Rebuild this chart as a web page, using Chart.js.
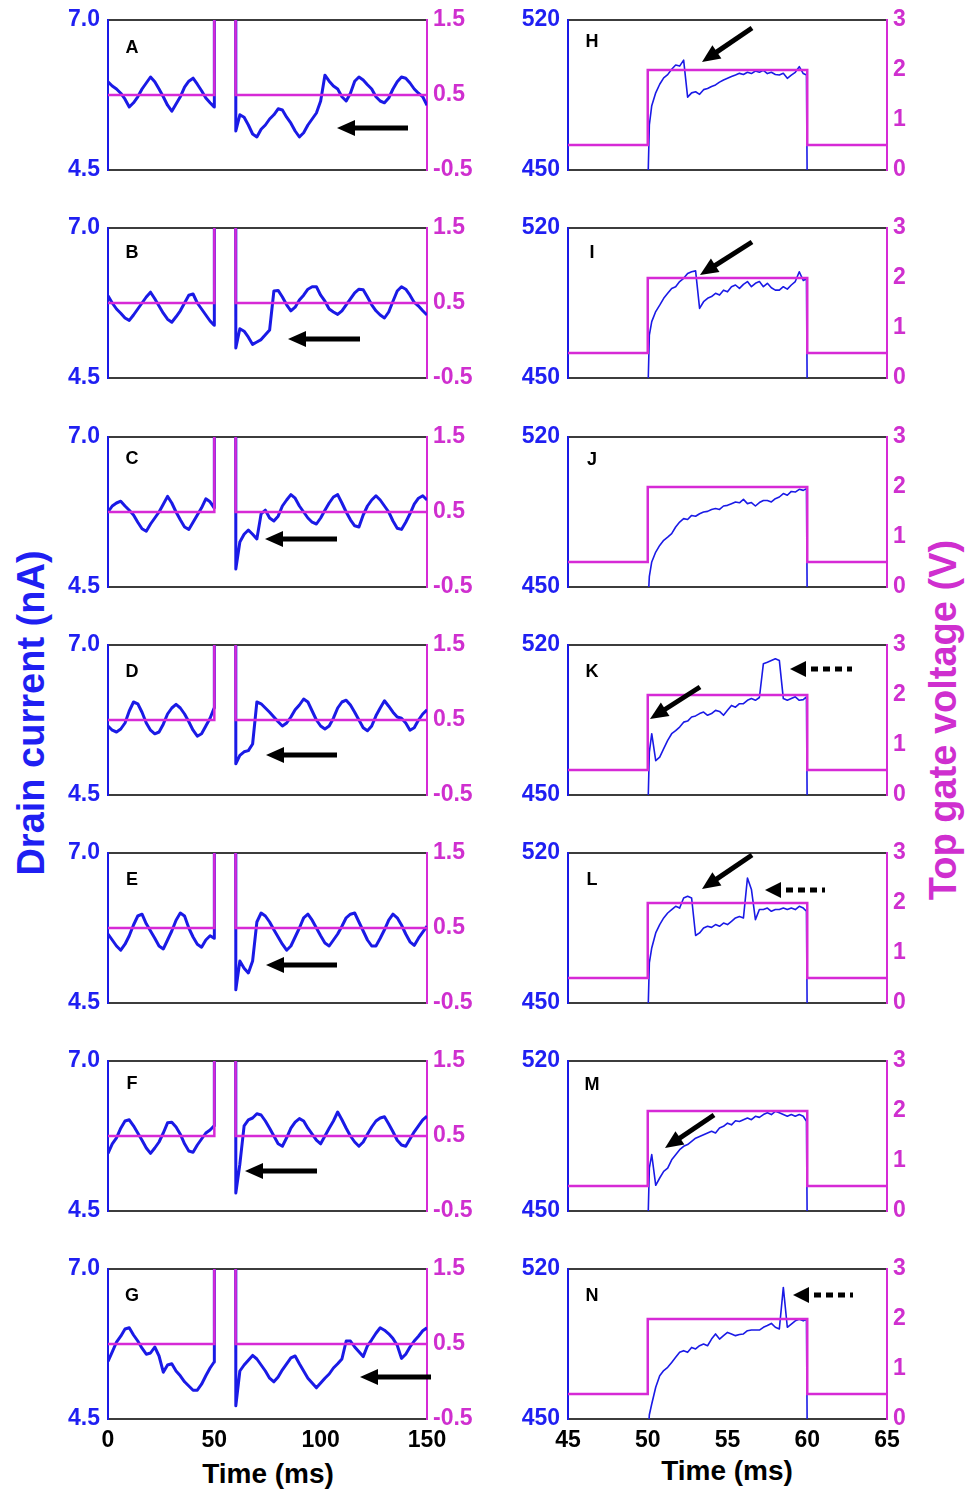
<!DOCTYPE html>
<html>
<head>
<meta charset="utf-8">
<script src="https://cdn.jsdelivr.net/npm/chart.js@4.4.1/dist/chart.umd.min.js"></script>
<style>
  body { margin: 0; background: #fff; overflow: hidden; }
  #fig { position: relative; width: 965px; height: 1490px; background: #fff; }
  .lab { position: absolute; white-space: nowrap; font-family: 'Liberation Sans', Arial, sans-serif; font-weight: bold; transform: translate(-50%, -50%); }
  .rot { transform: translate(-50%, -50%) rotate(-90deg); }
</style>
</head>
<body>
<div id="fig">
  <div class="lab rot" style="left:31px;top:713px;font-size:38px;color:#1f1ff2">Drain current (nA)</div>
  <div class="lab rot" style="left:943px;top:720px;font-size:38px;color:#cf2fcf">Top gate voltage (V)</div>
  <div class="lab" style="left:268px;top:1474px;font-size:28px;color:#000">Time (ms)</div>
  <div class="lab" style="left:727px;top:1471px;font-size:28px;color:#000">Time (ms)</div>
</div>
<script>
// time grids (ms)
const leftTime = [0,2,4,6,8,10,12,14,16,18,20,22,24,26,28,30,32,34,36,38,40,42,44,46,48,49.9,50,60,60.1,
  62,64,66,68,70,72,74,76,78,80,82,84,86,88,90,92,94,96,98,100,102,104,106,108,110,112,114,116,118,120,
  122,124,126,128,130,132,134,136,138,140,142,144,146,148,150];
const rightTime = [45,50,50.1,50.25,50.5,50.75,51,51.25,51.5,51.75,52,52.25,52.5,52.75,53,53.25,53.5,53.75,
  54,54.25,54.5,54.75,55,55.25,55.5,55.75,56,56.25,56.5,56.75,57,57.25,57.5,57.75,58,58.25,58.5,58.75,
  59,59.25,59.5,59.75,59.95,60,65];

// top gate pulse
const gateTimeLeft = [0, 50, 50, 60, 60, 150];
const gateTimeRight = [45, 50, 50, 60, 60, 65];
const gateVolts = [0.5, 0.5, 2, 2, 0.5, 0.5];

// drain current (nA), left column: 0-150 ms
const currentA = [5.97,5.90,5.85,5.78,5.68,5.55,5.62,5.72,5.85,5.95,6.05,5.97,5.85,5.72,5.58,5.48,5.60,5.72,5.88,5.98,6.03,5.93,5.82,5.70,5.62,5.55,9,9,5.15,
  5.42,5.38,5.25,5.10,5.05,5.18,5.25,5.35,5.42,5.52,5.50,5.38,5.28,5.15,5.05,5.12,5.25,5.35,5.45,5.65,
  6.08,5.98,5.90,5.85,5.72,5.65,5.78,5.98,6.05,6.00,5.92,5.85,5.72,5.65,5.62,5.70,5.85,5.97,6.05,6.03,
  5.95,5.85,5.78,5.72,5.58];
const currentB = [5.87,5.75,5.65,5.58,5.50,5.46,5.55,5.65,5.75,5.85,5.93,5.82,5.70,5.58,5.48,5.43,5.52,5.62,5.75,5.88,5.90,5.75,5.65,5.55,5.45,5.38,9,9,5.00,
  5.32,5.28,5.18,5.06,5.10,5.14,5.22,5.30,5.95,5.96,5.85,5.72,5.62,5.68,5.80,5.88,5.98,6.02,6.02,5.88,
  5.78,5.65,5.60,5.56,5.62,5.72,5.82,5.92,5.98,5.97,5.85,5.72,5.62,5.55,5.50,5.60,5.78,5.95,6.02,5.98,
  5.88,5.76,5.70,5.62,5.55];
const currentC = [5.75,5.85,5.90,5.93,5.85,5.78,5.70,5.58,5.47,5.43,5.55,5.65,5.75,5.88,6.01,5.90,5.75,5.62,5.50,5.46,5.58,5.70,5.82,5.97,5.92,5.82,9,9,4.80,
  5.25,5.38,5.45,5.38,5.30,5.72,5.78,5.65,5.60,5.68,5.85,5.95,6.04,5.98,5.85,5.75,5.65,5.58,5.55,5.65,
  5.78,5.90,6.00,6.04,5.90,5.75,5.62,5.52,5.50,5.70,5.85,5.95,6.02,5.95,5.85,5.75,5.60,5.48,5.46,5.58,
  5.72,5.88,5.98,6.02,5.95];
const currentD = [5.65,5.58,5.55,5.60,5.70,5.90,6.05,6.02,5.88,5.70,5.58,5.52,5.55,5.68,5.85,5.95,6.01,5.95,5.85,5.72,5.58,5.48,5.52,5.65,5.78,5.95,9,9,5.02,
  5.16,5.22,5.24,5.35,6.05,6.02,5.95,5.88,5.80,5.72,5.65,5.70,5.80,5.92,6.00,6.10,6.05,5.90,5.75,5.65,
  5.60,5.65,5.78,5.95,6.05,6.08,6.00,5.88,5.75,5.62,5.57,5.65,5.82,5.95,6.07,5.98,5.88,5.80,5.78,5.70,
  5.58,5.62,5.75,5.85,5.92];
const currentE = [5.65,5.55,5.45,5.38,5.48,5.62,5.80,5.95,5.98,5.82,5.70,5.58,5.45,5.40,5.55,5.70,5.88,6.00,5.95,5.75,5.60,5.48,5.43,5.55,5.62,5.58,9,9,4.72,
  5.20,5.08,5.00,5.20,5.85,6.00,5.95,5.85,5.72,5.60,5.48,5.38,5.45,5.60,5.75,5.92,5.98,5.88,5.75,5.62,
  5.50,5.45,5.55,5.65,5.78,5.92,5.98,6.00,5.85,5.70,5.55,5.45,5.45,5.58,5.72,5.88,5.98,5.92,5.80,5.65,
  5.52,5.46,5.58,5.68,5.78];
const currentF = [5.46,5.62,5.72,5.88,6.00,6.02,5.92,5.80,5.68,5.55,5.46,5.55,5.65,5.80,5.97,5.98,5.90,5.78,5.62,5.50,5.48,5.60,5.70,5.80,5.85,5.92,9,9,4.80,
  5.28,5.92,6.02,6.05,6.12,6.10,6.00,5.88,5.75,5.62,5.58,5.72,5.88,5.98,6.04,6.00,5.88,5.78,5.68,5.62,
  5.75,5.88,6.00,6.15,6.02,5.88,5.75,5.65,5.58,5.65,5.78,5.90,6.00,6.05,6.07,5.95,5.82,5.68,5.60,5.58,
  5.70,5.82,5.92,6.02,6.08];
const currentG = [5.46,5.62,5.78,5.88,6.00,6.02,5.90,5.80,5.68,5.58,5.60,5.70,5.55,5.28,5.40,5.42,5.30,5.22,5.12,5.05,4.98,4.98,5.08,5.22,5.35,5.45,9,9,4.72,
  5.30,5.40,5.48,5.56,5.50,5.40,5.30,5.18,5.12,5.20,5.32,5.42,5.52,5.55,5.42,5.30,5.18,5.10,5.02,5.10,
  5.18,5.25,5.35,5.42,5.50,5.80,5.80,5.70,5.62,5.54,5.72,5.82,5.93,6.02,5.98,5.92,5.84,5.73,5.51,5.58,
  5.70,5.80,5.88,5.97,6.02];

// drain current (nA), right column: 45-65 ms
const currentH = [440,440,471,480,486,490,493,494.5,497,499,498.5,501.3,
  484,486,486.5,485.3,487.5,488,489,489.7,491,492,
  492.8,493.6,494.3,495.1,494.6,495.6,495,496.2,495.6,496.5,
  495,495.6,494.6,494.3,495.1,492.8,494.3,495.6,498.2,495,494.3,440,440];
const currentI = [440,440,470,476.3,481,484,487.2,489.5,491.8,492.6,495,496.5,
  498.8,499.6,500,482.5,485.6,487.2,488,489.5,488.7,491,
  490.2,492.6,493.4,491.8,493.7,495,492.6,494.2,495,492.6,
  494.2,492.1,491,491,492.6,491.5,493.4,495,499.6,495.5,496.3,440,440];
const currentJ = [440,440,455,461.7,466.3,469.4,471.8,473.3,474.9,478,480.3,481.9,
  481.5,483.4,483,484.2,485,485.3,486.2,486.6,486.2,487.8,
  488.1,488.9,489.7,489.3,490.9,488.9,489.4,487.8,489.4,490.4,
  490.4,489.7,491.2,492,493.6,492.8,494.6,494.3,495.6,495.1,495.9,440,440];
const currentK = [440,440,470,478.6,466,467.7,471.6,475.5,478.6,480,481.7,484,
  484.5,486.4,486.9,488,488.7,487.2,488,489.5,489,487.2,
  489.5,491.8,491,492.6,492.6,494.2,495,494.2,495.5,511.3,
  512,512.8,513.6,512.8,495,494.2,495,495.8,494.2,494.5,495.8,440,440];
const currentL = [440,440,468.7,475.7,482.7,486.6,489.7,492,493.6,495.1,494.3,499,
  499.8,499,481.5,482.7,485,485.8,485.3,486.6,485.8,487.3,
  486.6,488.1,489.7,490.4,489.7,508.3,503,488.9,493.6,493.6,
  494.3,492.8,493.6,493.6,494.3,493.6,494.3,493.6,495.1,494.3,492.8,440,440];
const currentM = [440,440,470,476.3,462,465.4,468.5,470,473.9,476.3,478.6,480.2,
  481,482.5,484,484.8,485.6,486.4,487.2,486.4,488.7,489.5,
  491,490.2,492.1,491.8,492.6,493.4,492.6,494.2,493.7,495,
  495.8,495,496.5,495.8,495,494.2,495,494.2,495,494.2,491.8,440,440];
const currentN = [440,440,452,457,464.8,470.2,472.6,474.1,476.4,478.8,481.1,481.9,
  481.1,483.4,482.7,484.2,485,484.2,487.3,489.7,487.3,488.9,
  490.4,489.7,488.9,489.4,489.7,491.2,491.5,491.5,491.5,492.8,
  493.6,494.6,492.8,492,511.4,492.8,494.3,495.8,496.5,495.8,496.5,440,440];

// tick labels
const timeTicksLeft = [0, 50, 100, 150];
const timeTicksRight = [45, 50, 55, 60, 65];
const currentTicksLeft = [4.5, 7.0];
const currentTicksRight = [450, 520];
const voltTicksLeft = [-0.5, 0.5, 1.5];
const voltTicksRight = [0, 1, 2, 3];

const BLUE = '#1a1ae6';
const BLUE_TXT = '#1f1ff2';
const MAG = '#d62ad6';
const MAG_TXT = '#cf2fcf';
const FRAME = '#3c3c3c';
const FONT = "'Liberation Sans', Arial, sans-serif";
const rowTops = [20, 228, 437, 645, 853, 1061, 1269];
const PAD = 24;

const panels = [
  {letter: 'A', col: 0, row: 0, current: currentA, ly: 28},
  {letter: 'B', col: 0, row: 1, current: currentB, ly: 25},
  {letter: 'C', col: 0, row: 2, current: currentC, ly: 22},
  {letter: 'D', col: 0, row: 3, current: currentD, ly: 27},
  {letter: 'E', col: 0, row: 4, current: currentE, ly: 27},
  {letter: 'F', col: 0, row: 5, current: currentF, ly: 23},
  {letter: 'G', col: 0, row: 6, current: currentG, ly: 27},
  {letter: 'H', col: 1, row: 0, current: currentH, ly: 22},
  {letter: 'I', col: 1, row: 1, current: currentI, ly: 25},
  {letter: 'J', col: 1, row: 2, current: currentJ, ly: 23},
  {letter: 'K', col: 1, row: 3, current: currentK, ly: 27},
  {letter: 'L', col: 1, row: 4, current: currentL, ly: 27},
  {letter: 'M', col: 1, row: 5, current: currentM, ly: 24},
  {letter: 'N', col: 1, row: 6, current: currentN, ly: 27}
];

const fig = document.getElementById('fig');
const tickFont = {family: FONT, size: 23, weight: 'bold'};

const letterPlugin = {
  id: 'panelLetter',
  afterDatasetsDraw(chart, args, opts) {
    const ctx = chart.ctx;
    const a = chart.chartArea;
    ctx.save();
    ctx.fillStyle = '#000';
    ctx.font = 'bold 18px ' + FONT;
    ctx.textAlign = 'center';
    ctx.textBaseline = 'middle';
    ctx.fillText(opts.letter, a.left + 24, a.top + opts.ly);
    ctx.restore();
  }
};

function makePanel(p) {
  const left = p.col === 0;
  const bottomRow = p.row === 6;
  const plotLeft = left ? 108 : 568;
  const top = rowTops[p.row];
  const W = 68 + 319 + 60;
  const H = PAD + 150 + (bottomRow ? 40 : PAD);
  const canvas = document.createElement('canvas');
  canvas.width = W;
  canvas.height = H;
  canvas.style.cssText = `position:absolute;left:${plotLeft - 68}px;top:${top - PAD}px;width:${W}px;height:${H}px`;
  fig.appendChild(canvas);

  const time = left ? leftTime : rightTime;
  const gateTime = left ? gateTimeLeft : gateTimeRight;
  const tTicks = left ? timeTicksLeft : timeTicksRight;
  const cTicks = left ? currentTicksLeft : currentTicksRight;
  const vTicks = left ? voltTicksLeft : voltTicksRight;

  new Chart(canvas, {
    type: 'line',
    data: {
      datasets: [
        {
          data: gateTime.map((t, i) => ({x: t, y: gateVolts[i]})),
          yAxisID: 'y1', borderColor: MAG, borderWidth: 2.5, pointRadius: 0, tension: 0
        },
        {
          data: time.map((t, i) => ({x: t, y: p.current[i]})),
          yAxisID: 'y', borderColor: BLUE, borderWidth: left ? 3 : 1.6, pointRadius: 0,
          tension: 0, borderJoinStyle: 'round', clip: 0
        }
      ]
    },
    options: {
      responsive: false,
      animation: false,
      devicePixelRatio: 1,
      layout: {padding: {top: PAD, bottom: bottomRow ? 0 : PAD, left: 0, right: 0}},
      plugins: {
        legend: {display: false},
        tooltip: {enabled: false},
        panelLetter: {letter: p.letter, ly: p.ly}
      },
      scales: {
        x: {
          type: 'linear', position: 'bottom', min: tTicks[0], max: tTicks[tTicks.length - 1],
          afterBuildTicks: s => { s.ticks = tTicks.map(v => ({value: v})); },
          afterFit: s => { s.height = bottomRow ? 40 : 0; },
          grid: {display: false, drawTicks: false},
          border: {color: FRAME, width: 2},
          ticks: {display: bottomRow, color: '#000', font: tickFont, padding: 8, maxRotation: 0, autoSkip: false}
        },
        xTop: {
          type: 'linear', position: 'top', min: tTicks[0], max: tTicks[tTicks.length - 1],
          afterFit: s => { s.height = 0; },
          grid: {display: false, drawTicks: false},
          border: {color: FRAME, width: 2},
          ticks: {display: false}
        },
        y: {
          position: 'left', min: cTicks[0], max: cTicks[1],
          afterBuildTicks: s => { s.ticks = cTicks.map(v => ({value: v})); },
          afterFit: s => { s.width = 68; },
          grid: {display: false, drawTicks: false},
          border: {color: BLUE, width: 2},
          ticks: {color: BLUE_TXT, font: tickFont, padding: 8,
            callback: v => left ? v.toFixed(1) : String(v)}
        },
        y1: {
          position: 'right', min: vTicks[0], max: vTicks[vTicks.length - 1],
          afterBuildTicks: s => { s.ticks = vTicks.map(v => ({value: v})); },
          afterFit: s => { s.width = 60; },
          grid: {display: false, drawTicks: false},
          border: {color: MAG, width: 2},
          ticks: {color: MAG_TXT, font: tickFont, padding: 6,
            callback: v => left ? v.toFixed(1) : String(v)}
        }
      }
    },
    plugins: [letterPlugin]
  });
}

panels.forEach(makePanel);

// annotation arrows (tail -> tip, page pixels)
const solidArrows = [
  [408, 128, 337, 128], [360, 339, 288, 339], [337, 539, 265, 539], [337, 755, 266, 755],
  [337, 965, 266, 965], [317, 1171, 245, 1171], [431, 1377, 360, 1377],
  [752, 28, 702, 62], [752, 242, 700, 275], [700, 687, 650, 719], [752, 855, 702, 889], [714, 1115, 665, 1148]
];
const dottedArrows = [[790, 669, 852], [765, 890, 825], [793, 1295, 853]];

const over = document.createElement('canvas');
over.width = 965; over.height = 1490;
over.style.cssText = 'position:absolute;left:0;top:0;pointer-events:none';
fig.appendChild(over);
const g = over.getContext('2d');
g.fillStyle = '#000';
g.strokeStyle = '#000';

function arrowHead(x1, y1, x2, y2, len, half) {
  const ang = Math.atan2(y2 - y1, x2 - x1);
  const bx = x2 - len * Math.cos(ang), by = y2 - len * Math.sin(ang);
  g.beginPath();
  g.moveTo(x2, y2);
  g.lineTo(bx - half * Math.sin(ang), by + half * Math.cos(ang));
  g.lineTo(bx + half * Math.sin(ang), by - half * Math.cos(ang));
  g.closePath();
  g.fill();
  return [bx, by];
}

solidArrows.forEach(([x1, y1, x2, y2]) => {
  const [bx, by] = arrowHead(x1, y1, x2, y2, 18, 8);
  g.lineWidth = 5;
  g.setLineDash([]);
  g.beginPath();
  g.moveTo(x1, y1);
  g.lineTo(bx + (bx - x2) * -0.1, by + (by - y2) * -0.1);
  g.stroke();
});

dottedArrows.forEach(([tx, ty, tail]) => {
  arrowHead(tail, ty, tx, ty, 16, 8);
  g.lineWidth = 5;
  g.setLineDash([7, 5]);
  g.beginPath();
  g.moveTo(tx + 21, ty);
  g.lineTo(tail, ty);
  g.stroke();
});
</script>
</body>
</html>
